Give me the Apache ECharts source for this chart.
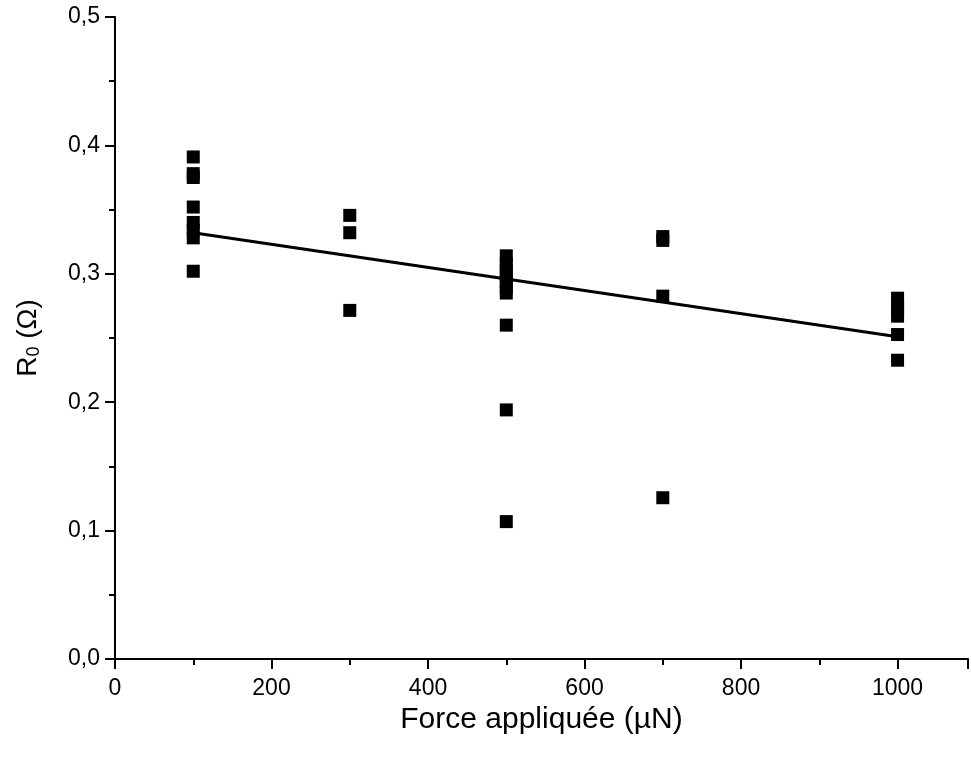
<!DOCTYPE html>
<html>
<head>
<meta charset="utf-8">
<script src="https://cdn.jsdelivr.net/npm/echarts@6/dist/echarts.min.js"></script>
<style>html,body{margin:0;padding:0;background:#fff}#c{width:971px;height:758px}</style>
</head>
<body>
<div id="c"></div>
<script>
// Data
const forces = [100, 300, 500, 700, 1000];
const r100 = [0.391, 0.378, 0.375, 0.352, 0.340, 0.334, 0.328, 0.302];
const r300 = [0.3455, 0.332, 0.2715];
const r500 = [0.314, 0.308, 0.303, 0.299, 0.294, 0.289, 0.285, 0.260, 0.194, 0.107];
const r700 = [0.329, 0.326, 0.2826, 0.1256];
const r1000 = [0.281, 0.276, 0.272, 0.267, 0.2527, 0.2327];
const fitX = [100, 1000];
const fitY = [0.332, 0.251];
const xTicks = [0, 200, 400, 600, 800, 1000];
const yTicks = [0.0, 0.1, 0.2, 0.3, 0.4, 0.5];

const groups = [r100, r300, r500, r700, r1000];
const scatterData = [];
groups.forEach((g, i) => g.forEach(v => scatterData.push([forces[i], v])));
const fitData = fitX.map((x, i) => [x, fitY[i]]);

const font = '"Liberation Sans", Arial, sans-serif';
const chart = echarts.init(document.getElementById('c'));
chart.setOption({
  animation: false,
  backgroundColor: '#fff',
  grid: { left: 115, right: 1, top: 17, bottom: 99, containLabel: false },
  xAxis: {
    type: 'value', min: 0, max: 1090, interval: 200,
    name: 'Force appliquée (µN)', nameLocation: 'middle', nameGap: 44,
    nameTextStyle: { fontFamily: font, fontSize: 30, color: '#000' },
    axisLine: { show: true, onZero: false, lineStyle: { color: '#000', width: 2 } },
    axisTick: { show: true, length: 10, lineStyle: { color: '#000', width: 2 } },
    minorTick: { show: true, splitNumber: 2, length: 6, lineStyle: { color: '#000', width: 2 } },
    splitLine: { show: false },
    axisLabel: { margin: 18, fontFamily: font, fontSize: 23, color: '#000',
      formatter: v => xTicks.includes(v) ? String(v) : '' }
  },
  yAxis: {
    type: 'value', min: 0, max: 0.5, interval: 0.1,
    name: 'R{sub|0} (Ω)', nameLocation: 'middle', nameGap: 72, nameRotate: 90,
    nameTextStyle: { fontFamily: font, fontSize: 28, color: '#000',
      rich: { sub: { fontFamily: font, fontSize: 18, color: '#000', verticalAlign: 'bottom', padding: [12, 0, 0, 0] } } },
    axisLine: { show: true, onZero: false, lineStyle: { color: '#000', width: 2 } },
    axisTick: { show: true, length: 10, lineStyle: { color: '#000', width: 2 } },
    minorTick: { show: true, splitNumber: 2, length: 6, lineStyle: { color: '#000', width: 2 } },
    splitLine: { show: false },
    axisLabel: { margin: 15, fontFamily: font, fontSize: 23, color: '#000',
      formatter: v => {
        const t = yTicks.find(y => Math.abs(y - v) < 1e-9);
        return t === undefined ? '' : t.toFixed(1).replace('.', ',');
      } }
  },
  series: [
    { type: 'scatter', data: scatterData, symbol: 'rect', symbolSize: 13,
      itemStyle: { color: '#000', opacity: 1 }, z: 3 },
    { type: 'line', data: fitData, showSymbol: false, symbol: 'none',
      lineStyle: { color: '#000', width: 3 }, z: 2 }
  ]
});
</script>
</body>
</html>
